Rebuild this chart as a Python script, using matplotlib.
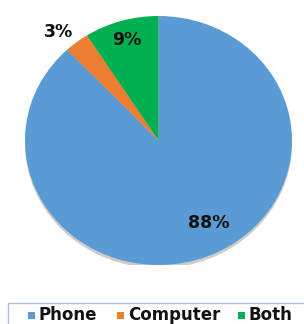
import numpy as np
import matplotlib.pyplot as plt
from matplotlib.patches import Ellipse, Rectangle

# データ
labels = ["Phone", "Computer", "Both"]
shares = [88, 3, 9]
colors = ["#5B9BD5", "#ED7D31", "#00B050"]

# ラベル位置 (半径, 角度のずれ)
label_radius = [0.76, 1.15, 0.84]
label_shift = [8, 3, 0]

# 凡例の位置 (ピクセル)
legend_x = [28, 117, 238]

fig = plt.figure(figsize=(3.04, 3.24), dpi=100)
ax = fig.add_axes([25 / 304, 59 / 324, 267 / 304, 249 / 324])

# 影
ax.add_patch(Ellipse((0, -0.025), 2.0, 2.0, color="#9a9a9a", alpha=0.5, lw=0, zorder=0))

wedges, _ = ax.pie(shares, colors=colors, startangle=90, counterclock=False,
                   wedgeprops=dict(linewidth=0))

for w, s, r, d in zip(wedges, shares, label_radius, label_shift):
    ang = np.deg2rad((w.theta1 + w.theta2) / 2 + d)
    ax.text(r * np.cos(ang), r * np.sin(ang), f"{s}%", ha="center", va="center",
            fontsize=12.5, fontweight="bold", color="#111111")

ax.set_xlim(-1.0, 1.0)
ax.set_ylim(-1.0, 1.0)
ax.set_aspect("auto")
ax.axis("off")

# 凡例の枠
fig.patches.append(Rectangle((8 / 304, -0.01), 1.0, (324 - 303) / 324 + 0.01,
                             transform=fig.transFigure, fill=False,
                             edgecolor="#a8c2e0", linewidth=1.0))

# 凡例 (ベースラインを揃えるため手で並べる)
for x, lab, c in zip(legend_x, labels, colors):
    fig.patches.append(Rectangle((x / 304, (324 - 319) / 324), 7 / 304, 7 / 324,
                                 transform=fig.transFigure, color=c, lw=0))
    fig.text((x + 11) / 304, (324 - 320) / 324, lab, ha="left", va="baseline",
             fontsize=12, fontweight="bold", color="#111111")

fig.savefig("out.png", dpi=100)
